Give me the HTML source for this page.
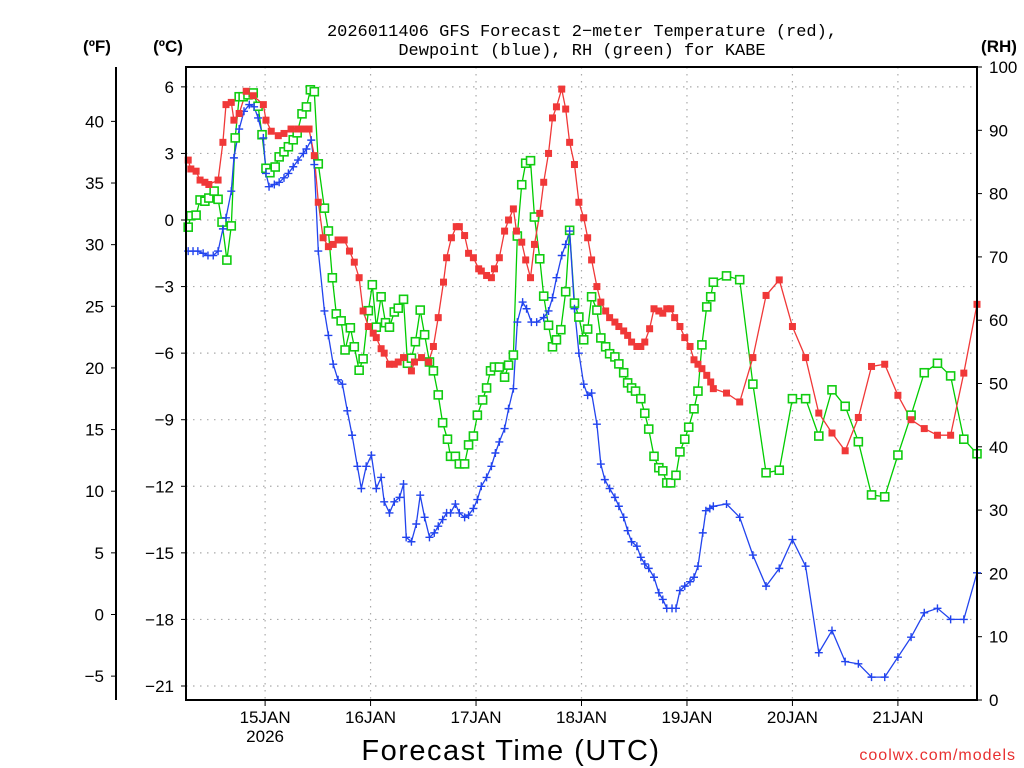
<!DOCTYPE html>
<html><head><meta charset="utf-8"><style>
html,body{margin:0;padding:0;background:#fff;width:1024px;height:768px;overflow:hidden}
svg text{font-family:"Liberation Sans",sans-serif;fill:#000}
</style></head><body>
<svg id="chart" width="1024" height="768" viewBox="0 0 1024 768" xmlns="http://www.w3.org/2000/svg">
<text x="582" y="36" font-size="17" text-anchor="middle" style="font-family:'Liberation Mono',monospace">2026011406 GFS Forecast 2−meter Temperature (red),</text>
<text x="582" y="55" font-size="17" text-anchor="middle" style="font-family:'Liberation Mono',monospace">Dewpoint (blue), RH (green) for KABE</text>
<text x="97" y="52" font-size="17" font-weight="bold" text-anchor="middle">(ºF)</text>
<text x="168" y="52" font-size="17" font-weight="bold" text-anchor="middle">(ºC)</text>
<text x="999" y="52" font-size="17" font-weight="bold" text-anchor="middle">(RH)</text>
<text x="511" y="760" font-size="29" text-anchor="middle" letter-spacing="1.5">Forecast Time (UTC)</text>
<text x="1016" y="760" font-size="16" text-anchor="end" style="fill:#e83030" letter-spacing="1">coolwx.com/models</text>
<g id="grid"></g><g id="axes"></g><g id="series"></g>
<rect x="186" y="67" width="791" height="633" fill="none" stroke="#000" stroke-width="2"/>
<line x1="116" y1="67" x2="116" y2="700" stroke="#000" stroke-width="2"/>
</svg>
<script>
const tempHours=[0.5,1.1,2.3,3.2,4.3,5.2,7.3,8.4,9.1,10.3,10.9,12.1,13.7,15.3,17.6,18.2,19.4,21.0,22.3,23.9,25.5,26.9,28.0,29.2,30.1,31.2,32.4,33.5,34.6,36.0,37.2,38.3,39.4,40.3,41.5,42.6,43.3,44.4,45.1,46.3,47.4,48.3,49.5,51.3,52.0,53.6,55.2,56.3,57.4,58.6,59.3,60.4,61.5,62.2,63.4,64.3,65.4,66.6,67.2,68.4,69.5,70.2,71.3,72.5,73.4,74.5,75.2,76.4,77.3,78.4,79.3,80.5,81.4,82.5,83.4,84.3,85.5,86.4,87.3,88.4,89.4,90.5,91.4,92.3,93.5,94.4,95.5,96.4,97.6,98.5,99.6,100.5,101.4,102.6,103.5,104.4,105.5,106.5,107.6,108.5,109.4,110.3,111.2,112.4,113.5,114.7,115.6,116.5,117.4,118.5,119.4,120,123,126,129,132,135,138,141,144,147,150,153,156,159,162,165,168,171,174,177,180];
const tempC=[2.7,2.3,2.2,1.8,1.7,1.6,1.8,3.5,5.2,5.3,4.5,4.8,5.8,5.6,5.2,4.5,4.0,3.8,3.9,4.1,4.1,4.1,4.1,2.9,0.8,-0.8,-1.2,-1.1,-0.9,-0.9,-1.4,-1.9,-2.6,-4.1,-4.8,-5.1,-5.3,-5.8,-6.0,-6.5,-6.5,-6.4,-6.2,-6.8,-6.4,-6.2,-6.4,-5.7,-4.4,-2.8,-1.7,-0.8,-0.3,-0.3,-0.7,-1.5,-1.7,-2.2,-2.3,-2.5,-2.6,-2.2,-1.7,-0.5,0,0.5,-0.5,-1.0,-1.8,-2.6,-1.1,0.3,1.7,3.0,4.6,5.1,5.9,5.0,3.5,2.5,0.8,0.1,-0.8,-1.8,-3.0,-3.7,-4.1,-4.4,-4.6,-4.8,-5.0,-5.2,-5.5,-5.7,-5.7,-5.5,-4.9,-4.0,-4.1,-4.2,-4.0,-4.0,-4.4,-4.8,-5.3,-5.7,-6.3,-6.5,-6.7,-7.0,-7.3,-7.6,-7.8,-8.2,-6.2,-3.4,-2.7,-4.8,-6.2,-8.7,-9.6,-10.4,-8.9,-6.6,-6.5,-7.9,-9.0,-9.4,-9.7,-9.7,-6.9,-3.8];
const dewHours=[0.5,1.6,2.7,3.9,5.0,6.2,7.3,8.4,9.1,10.3,10.9,12.1,13.2,14.4,15.5,16.4,17.6,18.2,18.9,20.1,21.2,22.3,23.3,24.4,25.5,26.7,27.4,28.5,29.2,30.1,31.5,32.4,33.5,34.6,35.6,36.7,37.8,39.0,39.9,41.0,42.2,43.3,44.4,45.1,46.3,47.4,48.6,49.5,50.1,51.3,52.4,53.3,54.3,55.4,56.5,57.4,58.4,59.3,60.2,61.3,62.2,63.4,64.3,65.4,66.3,67.2,68.4,69.5,70.4,71.3,72.5,73.4,74.5,75.4,76.6,77.5,78.6,79.8,81.4,82.5,83.4,84.3,85.5,86.4,87.3,88.4,89.4,90.5,91.4,92.3,93.5,94.4,95.3,96.4,97.6,98.5,99.6,100.5,101.4,102.6,103.5,104.4,105.3,106.5,107.6,108.5,109.4,110.6,111.5,112.4,113.5,114.7,115.6,116.5,117.6,118.3,119.2,120,123,126,129,132,135,138,141,144,147,150,153,156,159,162,165,168,171,174,177,180];
const dewC=[-1.4,-1.4,-1.4,-1.5,-1.6,-1.6,-1.4,-0.4,0.1,1.3,2.8,4.1,4.9,5.2,5.1,4.6,3.7,2.1,1.5,1.6,1.7,1.9,2.1,2.4,2.7,3.0,3.2,3.6,2.5,-1.4,-4.1,-5.2,-6.5,-7.2,-7.4,-8.6,-9.7,-11.1,-12.1,-11.1,-10.6,-12.1,-11.6,-12.7,-13.2,-12.7,-12.5,-11.9,-14.3,-14.5,-13.7,-12.4,-13.4,-14.3,-14.1,-13.8,-13.5,-13.2,-13.2,-12.8,-13.2,-13.4,-13.3,-13.0,-12.6,-12.0,-11.6,-11.1,-10.5,-10.0,-9.4,-8.5,-7.6,-4.6,-3.7,-4.0,-4.6,-4.6,-4.4,-4.1,-3.5,-2.6,-1.6,-1.1,-0.5,-4.0,-6.0,-7.4,-7.9,-7.8,-9.2,-11.0,-11.7,-12.1,-12.5,-12.9,-13.4,-14.0,-14.5,-14.7,-15.2,-15.5,-15.7,-16.1,-16.8,-17.1,-17.5,-17.5,-17.5,-16.7,-16.5,-16.3,-16.1,-15.6,-14.1,-13.1,-13.0,-12.9,-12.8,-13.4,-15.1,-16.5,-15.7,-14.4,-15.6,-19.5,-18.5,-19.9,-20.0,-20.6,-20.6,-19.7,-18.8,-17.7,-17.5,-18.0,-18.0,-15.9];
const rhHours=[0.5,1.1,2.3,3.2,4.3,5.2,6.4,7.3,8.2,9.3,10.3,11.2,12.1,13.0,14.1,15.3,16.4,17.3,18.2,19.1,20.3,21.2,22.3,23.3,24.4,25.3,26.4,27.4,28.3,29.2,30.1,31.5,32.4,33.3,34.2,35.3,36.2,37.4,38.3,39.4,40.3,41.5,42.4,43.3,44.4,45.4,46.3,47.4,48.3,49.5,50.4,51.3,52.2,53.3,54.3,55.4,56.3,57.4,58.4,59.5,60.2,61.3,62.2,63.4,64.3,65.4,66.3,67.5,68.4,69.3,70.2,71.3,72.5,73.4,74.5,75.4,76.4,77.3,78.4,79.3,80.5,81.4,82.5,83.4,84.3,85.3,86.4,87.3,88.4,89.4,90.5,91.4,92.3,93.5,94.4,95.5,96.4,97.6,98.5,99.6,100.5,101.4,102.3,103.5,104.4,105.3,106.5,107.6,108.5,109.4,110.3,111.5,112.4,113.5,114.4,115.6,116.5,117.4,118.5,119.4,120,123,126,129,132,135,138,141,144,147,150,153,156,159,162,165,168,171,174,177,180];
const rhPct=[74.7,76.5,76.6,79.0,78.8,79.3,80.4,79.1,75.5,69.5,74.9,88.8,95.3,95.3,95.6,95.9,93.8,89.3,84.0,83.3,84.2,85.8,86.6,87.4,88.5,89.6,92.6,93.7,96.4,96.1,84.7,77.7,74.1,66.7,61.0,59.9,55.3,58.8,55.8,52.1,53.9,61.5,65.6,58.9,63.7,59.6,58.9,61.3,61.9,63.3,53.2,54.0,56.6,61.6,57.7,53.4,52.0,48.2,43.8,41.2,38.5,38.5,37.3,37.3,40.3,41.7,45.0,47.4,49.3,52.0,52.6,52.6,51.0,52.9,54.5,73.3,81.4,84.8,85.2,76.3,69.7,63.8,59.2,55.8,56.9,58.5,64.5,74.2,62.7,60.5,56.9,58.6,63.7,61.6,57.2,55.8,54.7,54.2,53.1,51.7,50.1,49.3,48.8,47.6,45.3,42.8,38.5,36.7,36.2,34.3,34.3,35.5,39.2,41.2,43.1,46.0,48.8,56.1,62.1,63.7,66.0,67.0,66.4,49.9,35.9,36.3,47.6,47.6,41.7,49.0,46.4,40.8,32.4,32.1,38.7,45.0,51.7,53.2,51.2,41.2,38.9];
const celsiusTicks=[6,3,0,-3,-6,-9,-12,-15,-18,-21];
const fahrenheitTicks=[40,35,30,25,20,15,10,5,0,-5];
const rhTicks=[0,10,20,30,40,50,60,70,80,90,100];
const dateTickHours=[18,42,66,90,114,138,162];
const dateTickLabels=["15JAN","16JAN","17JAN","18JAN","19JAN","20JAN","21JAN"];

const NS="http://www.w3.org/2000/svg";
const X0=186,X1=977,Y0=67,Y1=700,HMAX=180;
function xs(h){return X0+h*(X1-X0)/HMAX;}
function yC(c){return 220-c*22.19;}
function yF(f){return yC((f-32)*5/9);}
function yRH(r){return Y1-r*(Y1-Y0)/100;}
function mk(tag,attrs,parent){const e=document.createElementNS(NS,tag);for(const k in attrs)e.setAttribute(k,attrs[k]);parent.appendChild(e);return e;}
const grid=document.getElementById('grid'),axes=document.getElementById('axes'),series=document.getElementById('series');

celsiusTicks.forEach(c=>{const y=yC(c);
 const g=mk('line',{x1:X0,x2:X1,y1:y,y2:y,stroke:'#aaa','stroke-width':1.2,'stroke-dasharray':'1.5,5.5'},grid);
 
 
 mk('line',{x1:X0-5,x2:X0,y1:y,y2:y,stroke:'#000'},axes);
 const t=mk('text',{x:X0-12,y:y+6,'font-size':17,'text-anchor':'end'},axes);t.textContent=(c<0?'−'+(-c):c);
 
 
});
fahrenheitTicks.forEach(f=>{const y=yF(f);
 mk('line',{x1:111,x2:116,y1:y,y2:y,stroke:'#000'},axes);
 const t=mk('text',{x:104,y:y+6,'font-size':17,'text-anchor':'end'},axes);t.textContent=(f<0?'−'+(-f):f);
 
 
});
rhTicks.forEach(r=>{const y=yRH(r);
 mk('line',{x1:X1,x2:X1+5,y1:y,y2:y,stroke:'#000'},axes);
 const t=mk('text',{x:X1+12,y:y+6,'font-size':17,'text-anchor':'start'},axes);t.textContent=r;
 
 
});
dateTickHours.forEach((h,i)=>{const x=xs(h);
 const g=mk('line',{x1:x,x2:x,y1:Y0,y2:Y1,stroke:'#aaa','stroke-width':1.2,'stroke-dasharray':'1.5,5.5'},grid);
 
 
 mk('line',{x1:x,x2:x,y1:Y1,y2:Y1+6,stroke:'#000'},axes);
 const t=mk('text',{x:x,y:723,'font-size':17,'text-anchor':'middle'},axes);t.textContent=dateTickLabels[i];
 
 
 if(i===0){const t2=mk('text',{x:x,y:742,'font-size':17,'text-anchor':'middle'},axes);t2.textContent='2026';
  
  }
});

function drawLine(hours,vals,yf,color,name){
 const pts=hours.map((h,i)=>xs(h).toFixed(1)+','+yf(vals[i]).toFixed(1)).join(' ');
 const p=mk('polyline',{points:pts,fill:'none',stroke:color,'stroke-width':1.3},series);
 
 
}
drawLine(rhHours,rhPct,yRH,'#00cc00','rh-line');
drawLine(dewHours,dewC,yC,'#2244ee','dewpoint-line');
drawLine(tempHours,tempC,yC,'#f03838','temperature-line');
rhHours.forEach((h,i)=>{const x=xs(h),y=yRH(rhPct[i]);
 const m=mk('rect',{x:x-4,y:y-4,width:8,height:8,fill:'#fff',stroke:'#11cc11','stroke-width':1.6},series);
 
 
});
dewHours.forEach((h,i)=>{const x=xs(h),y=yC(dewC[i]);
 const m=mk('path',{d:`M${x-4} ${y}H${x+4}M${x} ${y-4}V${y+4}`,stroke:'#2244ee','stroke-width':1.4,fill:'none'},series);
 
 
});
tempHours.forEach((h,i)=>{const x=xs(h),y=yC(tempC[i]);
 const m=mk('rect',{x:x-3.5,y:y-3.5,width:7,height:7,fill:'#f03838'},series);
 
 
});
</script>
</body></html>
